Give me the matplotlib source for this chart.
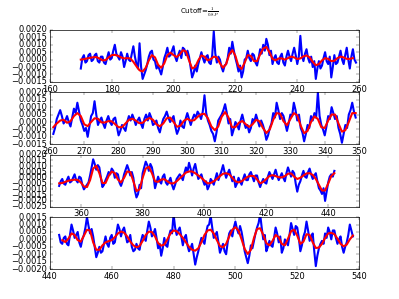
import numpy as np
import matplotlib
matplotlib.use("Agg")
import matplotlib.pyplot as plt

# values in units of 1e-4
# blue: samples at whole x and at x + 0.5 (read separately), red: whole x
x1_start = 170
blue1 = [-6, 3, -1, 4, 0, 4, -2, 2, -3, 5,
         1, 10, 2, 5, -5, 4, -1, 9, -3, 11,
         -13, -7, 2, 6, -1, -4, -10, 1, 8, 3,
         9, -1, 6, 8, 3, 2, -12, -4, -3, 5,
         -2, 3, -3, 19, -2, 0, -8, -3, 8, 12,
         1, -8, -12, 0, 6, -1, 3, -4, 7, 10,
         14, 3, -3, 3, -3, 4, -4, 6, -1, 8,
         -3, 16, -1, 7, -2, -5, -13, -1, -4, 5,
         -3, -12, 3, -2, 6, -3, 8, -6, 7, -2]
blue1_half = [1, -2, 3, -1, 3, -1, 2, -2, 1, 0,
              6, 4, 0, 2, -1, 0, 4, 2, -6, -5,
              -10, -3, 5, 0, -6, -7, -5, 4, 2, 6,
              2, 3, 1, 7, 6, -5, -9, -8, 1, 1,
              2, -2, 3, 4, 2, -5, -4, 1, 4, 6,
              -3, -4, -8, 1, 1, 4, -2, 1, 4, 6,
              10, 6, 1, -2, 2, -2, 2, 2, 4, 3,
              2, 3, 4, 1, 2, -1, -6, -6, 1, -1,
              2, -5, -3, 2, 0, 3, 0, 2, 0]
red1 = [0, 0.3, 0.8, 1.2, 1.6, 1.7, 0.8, -0.5, -0.3, 1.5,
        3, 3.2, 2.6, 1.5, 0.8, 1.0, 0.8, -1.5, -4.5, -7.2,
        -8, -5.5, -0.5, 3, 1.5, -3.5, -5.5, -2.5, 3, 4.7,
        3, 1.8, 3.5, 6.3, 5.5, -0.5, -6, -5, -0.5, 2.8,
        2, -0.5, 0.3, 2, 1.5, -2.5, -5.5, -3, 3.5, 6.4,
        2.5, -4.5, -6.3, -2, 3, 2.5, -1, -1, 3.5, 7.5,
        8.5, 5, 0.5, -0.5, 0.8, 0.8, 0, 1, 2, 1.5,
        0.4, 0.8, 2.2, 2.8, 1.5, -1.5, -3.8, -3, -0.5, 1,
        0.5, -1, -0.8, 1, 2, 1.5, 0.5, 0.5, 1]

x2_start = 261
blue2 = [-8, 2, 8, -1, 4, -3, 9, 13, 1, -6,
         -10, 4, 14, -2, 3, -4, 4, -2, 3, -9,
         -2, -6, 4, 5, -2, 3, -4, 5, 6, -2,
         1, -7, 2, 7, 0, 4, -8, 1, -4, 6,
         -2, 5, 7, 2, 18, 1, -6, -13, 1, 5,
         12, -1, -9, 0, -5, 5, -4, -7, 2, 5,
         -3, -2, -12, -4, 6, 13, 2, 4, -6, 5,
         13, 1, -4, -13, -2, 4, 6, 20, -2, -9,
         4, 10, 2, -4, -14, -2, 5, 13, 3]
blue2_half = [-4, 5, 4, 1, 0, 3, 6, 7, -2, -4,
              -3, 6, 5, 1, -1, 1, 0, 2, -3, -6,
              -4, 0, 1, 2, 1, -1, 2, 1, 3, -1,
              -4, -2, 4, 3, 2, -3, -5, -3, 2, 2,
              2, 3, 5, 7, 6, -2, -8, -7, 3, 8,
              6, 2, -5, -2, 1, 0, -2, -4, 0, 1,
              1, -6, -9, -1, 3, 8, 6, -1, -1, 4,
              8, 5, -7, -8, -4, 1, 3, 4, -5, -3,
              2, 6, 4, -8, -8, -4, 8, 7]
red2 = [-3.5, -1, 1, 1.5, -0.5, 0.5, 4, 6, 4, -1.5,
        -2.8, 0, 2.5, 2.2, -0.3, -0.3, 0.6, 0.5, -1.5, -3.5,
        -3.5, -1, 1.5, 2.2, 1, -0.8, -0.5, 1.5, 2.7, 1.5,
        -1.5, -2.9, -1, 2.5, 3, 0, -3.2, -2.5, 0.8, 2.2,
        0.9, 1.2, 3.5, 5.2, 5.5, 2.5, -3, -5.5, -3, 3.5,
        6.7, 3, -3.5, -3.5, -0.5, 0.7, -1.5, -3.3, -1.5, 1.5,
        0.5, -4, -7.4, -5, 1.5, 6, 5.5, 0.5, -2.2, 2,
        6, 4.5, -2.5, -7.5, -6, 0, 3.8, 2, -3.5, -4,
        1, 5, 5, -1, -6.5, -5.5, 0, 6, 6]

x3_start = 353
blue3 = [-7, -1, -6, 1, -3, 3, -4, 0, -10, -6,
         2, 16, 7, 9, -8, -2, 5, 8, 0, 3,
         -7, 3, 11, 2, 0, -17, -6, 4, 14, 6,
         9, -9, 1, -5, 3, -6, 0, -10, -1, 3,
         -2, 9, 13, 2, 12, -1, 3, -6, -10, -1,
         -6, 4, 2, 11, 0, 7, -3, -8, 0, -6,
         3, -2, 5, -3, 2, -8, -1, -5, 5, -1,
         7, -2, 4, -3, 9, 1, 4, -12, -3, 6,
         0, 8, -1, 4, -9, -14, -20, -4, 3, 6]
blue3_half = [-3, -5, -2, -4, 0, -2, 1, -6, -8, -4,
              9, 12, 11, 0, -6, 1, 3, 6, 4, -4,
              -3, 7, 7, 5, -11, -14, -9, 9, 11, 12,
              2, -4, -3, 1, -4, -3, -6, -6, 1, 1,
              4, 5, 8, 8, 5, 1, -2, -3, -7, -3,
              -1, -2, 6, 5, 4, 2, 1, -5, -3, -1,
              -2, 3, 1, 2, -4, -4, -4, 1, 2, 3,
              2, 1, 0, 4, 5, 6, -5, -6, 2, 1,
              5, 3, 2, -3, -11, -9, -12, 1, 1]
red3 = [-4.8, -4.5, -3.5, -2.5, -2, -1.6, -1.8, -4, -7.5, -8,
        -2, 8, 10.4, 4, -4.5, -4.5, 1.5, 5.5, 4, -1.5,
        -4, 0, 5.5, 5, -3, -11.5, -10, 0, 8, 9.5,
        4, -3, -3.5, -1.5, -1.2, -3, -4.8, -4.8, -3, -0.5,
        2, 4.5, 5.5, 5.5, 4, 2, 0, -2.5, -4.8, -4.5,
        -3, -1, 1.5, 3.5, 4, 3, 0, -3, -4, -3,
        -1, 1, 1.7, 1.5, -1.5, -4.8, -3.5, -1, 1.5, 2.3,
        1.5, 0.5, 0.3, 1.5, 3.5, 3.8, 1, -1, 0, 2,
        3.8, 4, 2.5, -1, -6, -11, -11, -5, 1.5, 4]

x4_start = 443
blue4 = [3, -3, 2, -4, 10, 1, 5, -5, 3, 15,
         4, 2, -12, -5, -8, 2, -5, 3, -2, 10,
         2, 8, -2, 3, -8, -3, -7, 3, -1, 12,
         2, 7, -6, -11, 1, -5, 6, 17, 3, 8,
         -4, 3, -8, -3, -17, -8, 1, -3, 9, 16,
         1, 5, -9, -3, -10, 4, 2, 12, 4, 5,
         -8, -16, -4, -1, 8, 17, 0, -8, -1, -5,
         8, -2, -9, 0, -4, 11, 3, 8, -8, 2,
         12, -1, 4, -18, -6, -1, 4, 8, 0, 6,
         -3, 2, -9, -2, 10, 2]
blue4_half = [-2, 1, -3, 3, 6, 3, -2, 0, 8, 9,
              7, -5, -9, -9, -3, -3, 1, -3, 4, 7,
              6, 3, -1, -5, -7, -6, -1, 1, 6, 8,
              4, 1, -3, -6, -4, 2, 4, 8, 6, 2,
              1, -4, -6, -10, -12, -3, -1, 4, 10, 8,
              3, -2, -6, -8, -2, 6, 8, 7, 9, -1,
              -12, -11, -6, 4, 11, 8, 3, -5, -4, 1,
              4, 2, -6, -2, 3, 7, 9, 1, -4, 5,
              6, 2, -8, -11, -3, -3, 1, 5, 6, 1,
              0, -5, -5, 3, 6]
red4 = [-0.5, -1.8, 0.5, 4, 3, -0.5, -1.5, 2.5, 6.5, 6,
        -2, -7, -7, -4, -2, -1.2, -0.5, 1.5, 4, 5.3,
        4.5, 2, -1.5, -4, -5.3, -4.5, -1, 3, 5.2, 5,
        2, -2.5, -4.2, -3.5, 0, 4, 6, 5.5, 3.5, 1,
        -2, -5, -7, -7.6, -6, -2, 3, 6, 6.5, 4,
        -0.5, -4.5, -5.3, -3, 2, 6.5, 8.2, 6, 0, -6.5,
        -9.8, -7, 1, 7, 7.5, 3, -2.5, -4, -1, 3,
        1.5, -3, -4, 0.5, 5.5, 6.5, 2.5, -3, -1.5, 3.5,
        3, -2, -5.8, -5.5, -3, 1, 4, 4.4, 3.5, 0.5,
        -3, -4.7, -3.5, 0, 2.6]
x4_red_start = 444

xlims = [(160, 260), (260, 350), (350, 450), (440, 540)]
ylims = [(-0.0015, 0.0020), (-0.0015, 0.0020), (-0.0025, 0.0020), (-0.0020, 0.0015)]


def blue_series(x0, whole, half):
    v = np.empty(len(whole) + len(half))
    v[0::2] = whole
    v[1::2] = half
    x = x0 + 0.5 * np.arange(len(v))
    return x, v * 1e-4


panels = [(x1_start, blue1, blue1_half, x1_start, red1),
          (x2_start, blue2, blue2_half, x2_start, red2),
          (x3_start, blue3, blue3_half, x3_start, red3),
          (x4_start, blue4, blue4_half, x4_red_start, red4)]

plt.style.use('classic')
fig = plt.figure(figsize=(7.98, 5.98), dpi=50)
fig.suptitle(r'Cutoff=$\frac{1}{0.8P}$', fontsize=10)

for i, (xb0, b, bh, xr0, r) in enumerate(panels):
    ax = fig.add_subplot(4, 1, i + 1)
    xb, yb = blue_series(xb0, b, bh)
    ax.plot(xb, yb, color='b', lw=3)
    ax.plot(xr0 + np.arange(len(r)), np.array(r) * 1e-4, color='r', lw=3)
    ax.set_xlim(xlims[i])
    ax.set_ylim(ylims[i])

fig.savefig('out.png', dpi=50)
